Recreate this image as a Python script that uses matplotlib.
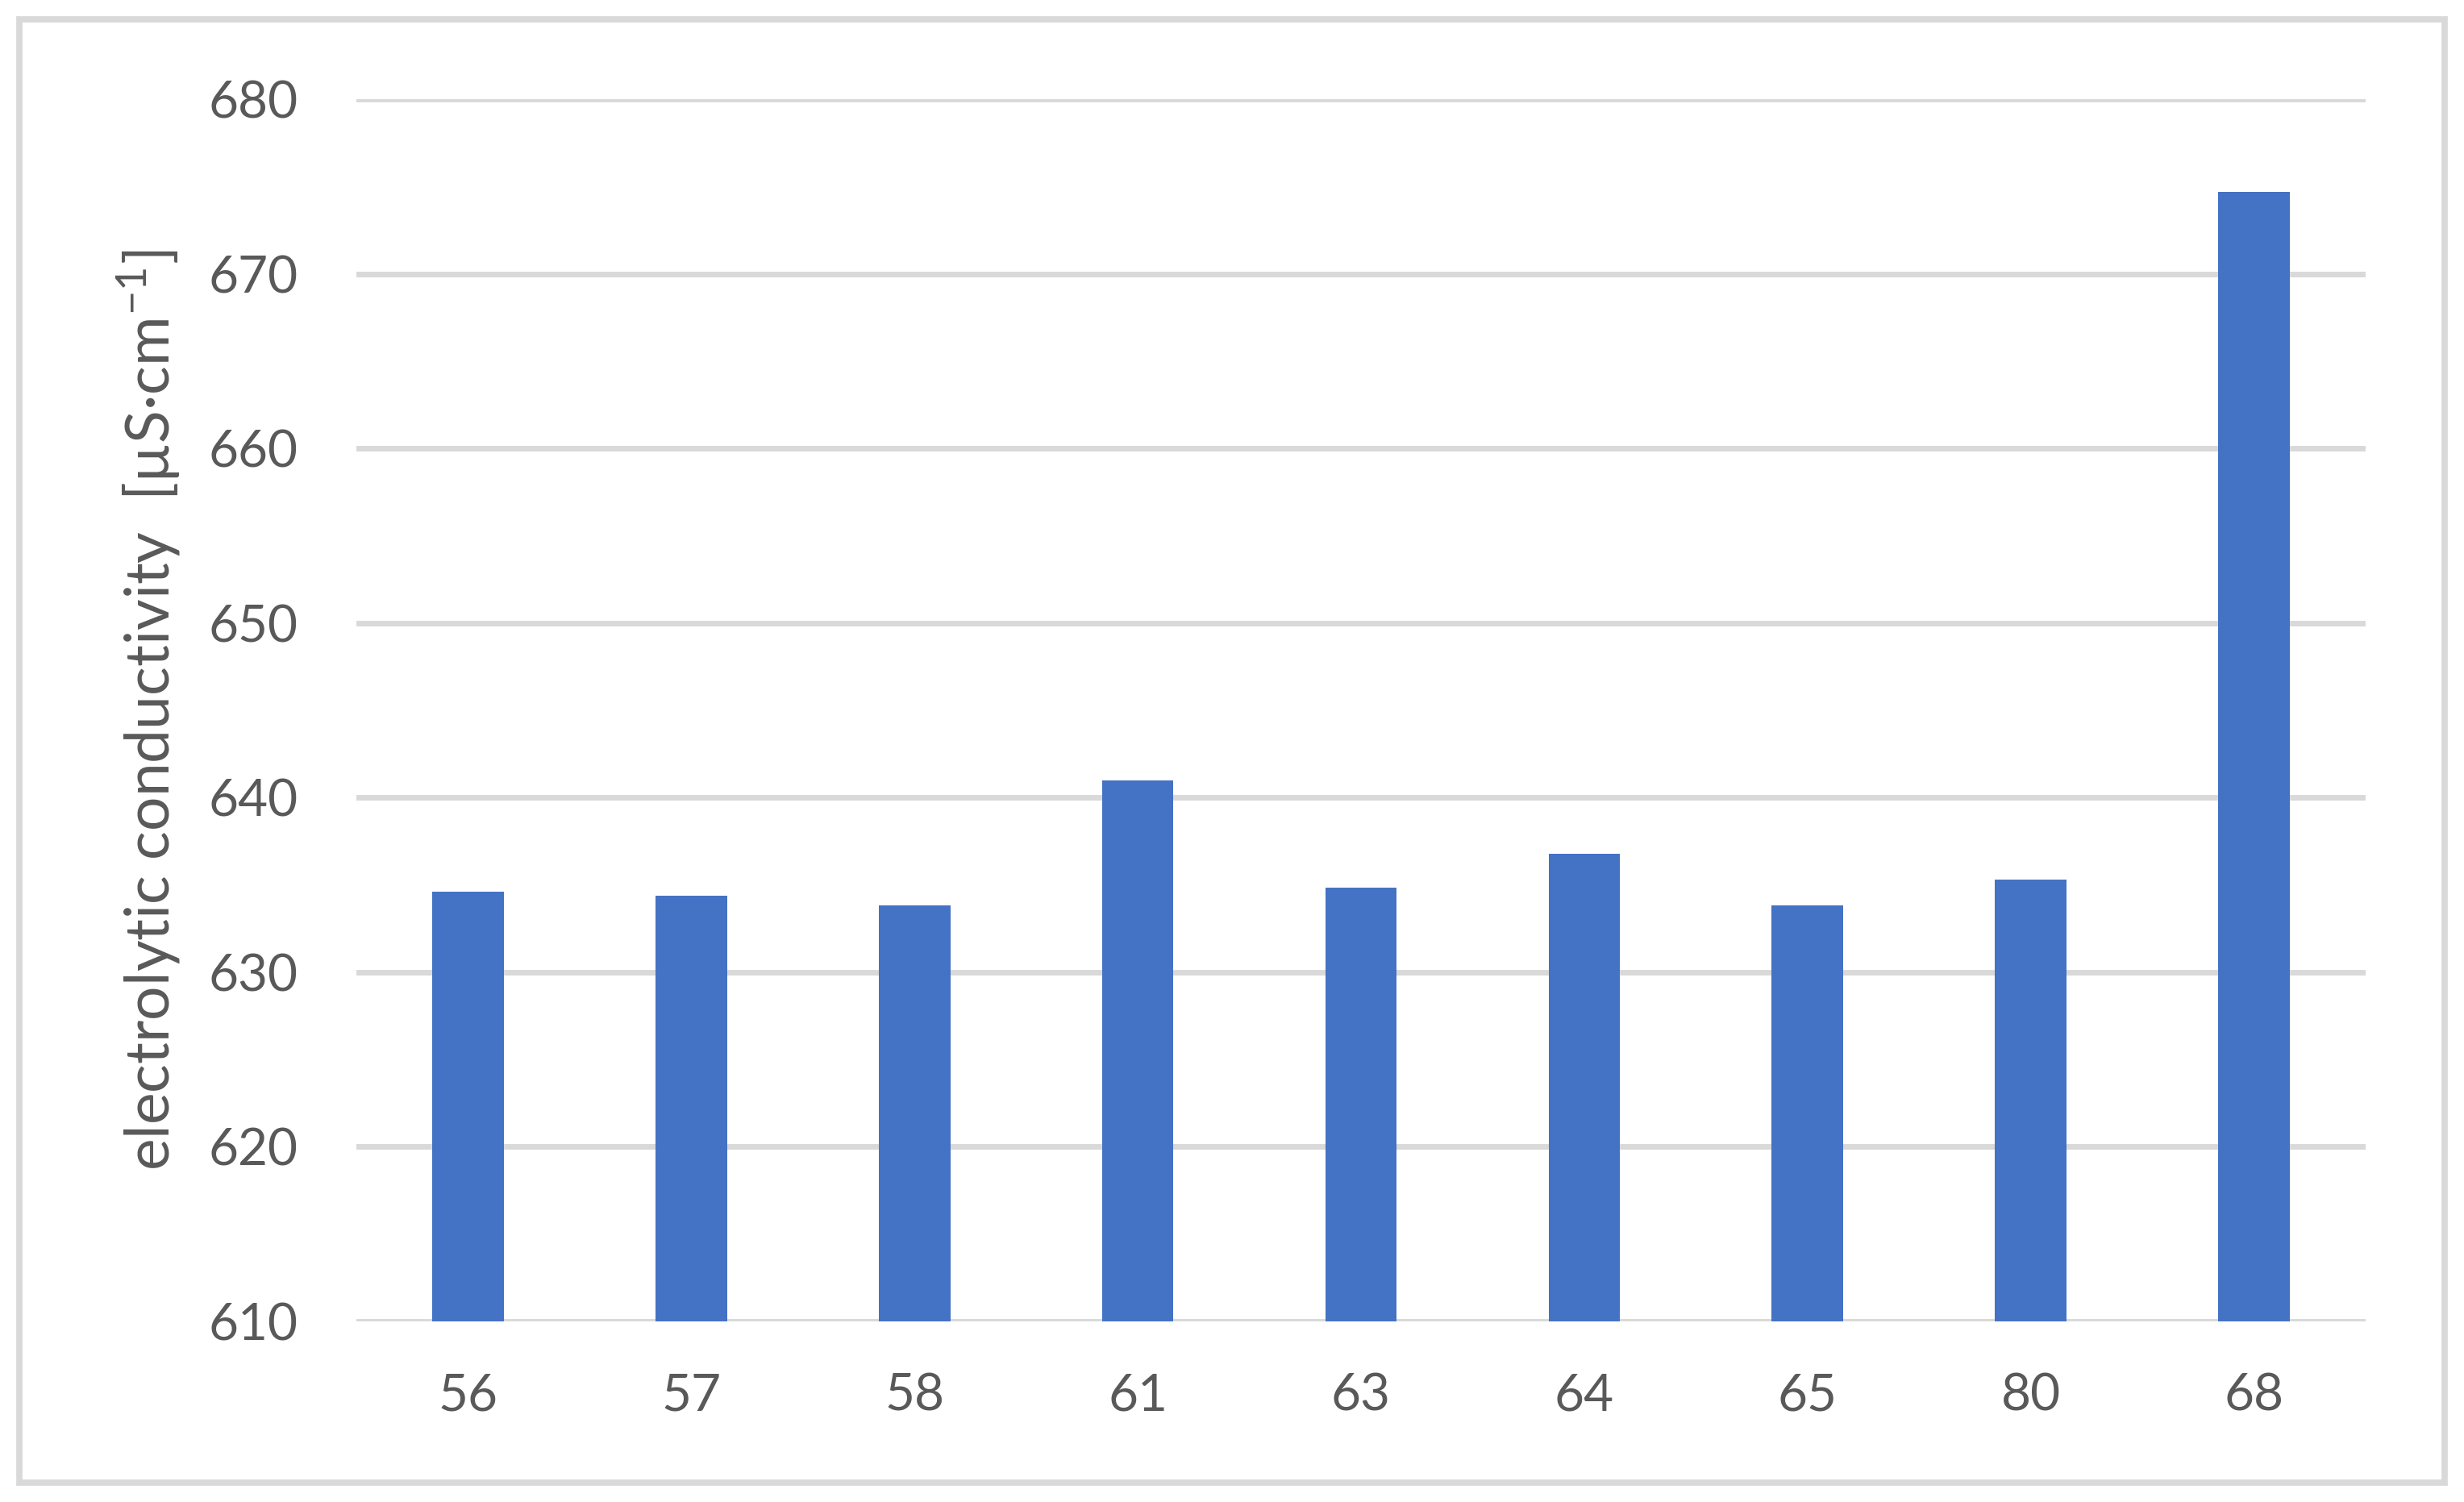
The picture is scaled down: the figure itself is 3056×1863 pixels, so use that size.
import matplotlib.pyplot as plt
from matplotlib.patches import Rectangle
import numpy as np

samples = ["56", "57", "58", "61", "63", "64", "65", "80", "68"]
conductivity = [634.6, 634.4, 633.85, 641.0, 634.85, 636.8, 633.85, 635.3, 674.7]
y_ticks = [610, 620, 630, 640, 650, 660, 670, 680]

plt.rcParams["font.family"] = ["Lato", "DejaVu Sans"]
text_color = "#595959"
grid_color = "#d9d9d9"

fig = plt.figure(figsize=(15.28, 9.315), dpi=200)
ax = fig.add_axes([0.1447, 0.1202, 0.8153, 0.8138])

x = np.arange(len(samples))
base = y_ticks[0]
ax.bar(x, np.array(conductivity) - base, bottom=base, width=0.32,
       color="#4472c4", zorder=3)

ax.set_xlim(-0.5, len(samples) - 0.5)
ax.set_ylim(y_ticks[0], y_ticks[-1])
ax.set_yticks(y_ticks)
ax.set_xticks(x)
ax.set_xticklabels(samples)

ax.grid(True, axis="y", color=grid_color, linewidth=2.5, zorder=0)
ax.set_axisbelow(True)
for s in ax.spines.values():
    s.set_visible(False)
ax.tick_params(axis="both", length=0, labelsize=23, labelcolor=text_color)
ax.tick_params(axis="y", pad=26)
ax.tick_params(axis="x", pad=23)

ax.set_ylabel("electrolytic conductivity  [µS·cm$^{\\mathregular{-1}}$]",
              fontsize=27, color=text_color, labelpad=12)

# outer chart border
fig.add_artist(Rectangle((24 / 3056, 24 / 1863), 1 - 48 / 3056, 1 - 48 / 1863,
                         transform=fig.transFigure, fill=False,
                         edgecolor=grid_color, linewidth=2.8))

fig.savefig("out.png", dpi=200)
